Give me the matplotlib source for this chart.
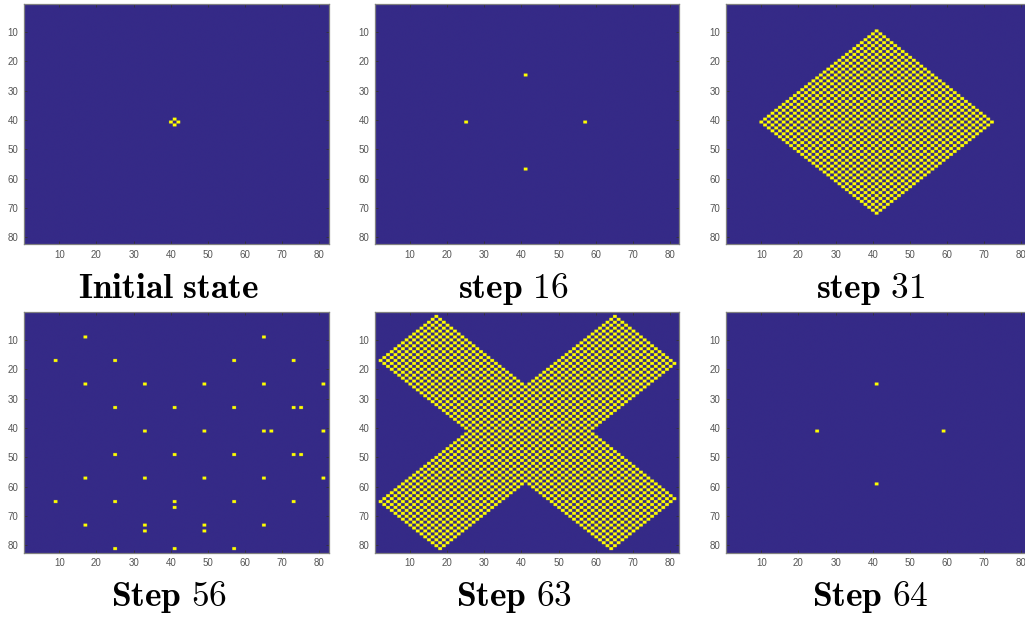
import numpy as np
import matplotlib
matplotlib.use("Agg")
import matplotlib.pyplot as plt
from matplotlib.colors import ListedColormap

plt.rcParams['font.family'] = ['Liberation Sans', 'DejaVu Sans']
plt.rcParams['mathtext.fontset'] = 'cm'

GRID = 82
BLUE = '#352a87'
YELLOW = '#ffff00'

titles = [r'$\mathbf{Initial\ state}$', r'$\mathbf{step}\ 16$', r'$\mathbf{step}\ 31$',
          r'$\mathbf{Step}\ 56$', r'$\mathbf{Step}\ 63$', r'$\mathbf{Step}\ 64$']
tick_values = [10, 20, 30, 40, 50, 60, 70, 80]

# single cells, (row, column)
initial_cells = [(40, 41), (41, 40), (41, 42), (42, 41)]
step16_cells = [(25, 41), (41, 25), (41, 57), (57, 41)]
step64_cells = [(25, 41), (41, 25), (41, 59), (59, 41)]

# step 56, columns lit on each row
step56_rows = [9, 17, 25, 33, 41, 49, 57, 65, 67, 73, 75, 81]
step56_cols = [
    [17, 65],
    [9, 25, 57, 73],
    [17, 33, 49, 65, 81],
    [25, 41, 57, 73, 75],
    [33, 49, 65, 67, 81],
    [25, 41, 57, 73, 75],
    [17, 33, 49, 65, 81],
    [9, 25, 41, 57, 73],
    [41],
    [17, 33, 49, 65],
    [33, 49],
    [25, 41, 57],
]

# step 31, checkerboard diamond: row, first column, last column
diamond_rows = [10, 11, 12, 13, 14, 15, 16, 17, 18, 19, 20, 21, 22, 23, 24, 25,
                26, 27, 28, 29, 30, 31, 32, 33, 34, 35, 36, 37, 38, 39, 40, 41,
                42, 43, 44, 45, 46, 47, 48, 49, 50, 51, 52, 53, 54, 55, 56, 57,
                58, 59, 60, 61, 62, 63, 64, 65, 66, 67, 68, 69, 70, 71, 72]
diamond_first = [41, 40, 39, 38, 37, 36, 35, 34, 33, 32, 31, 30, 29, 28, 27, 26,
                 25, 24, 23, 22, 21, 20, 19, 18, 17, 16, 15, 14, 13, 12, 11, 10,
                 11, 12, 13, 14, 15, 16, 17, 18, 19, 20, 21, 22, 23, 24, 25, 26,
                 27, 28, 29, 30, 31, 32, 33, 34, 35, 36, 37, 38, 39, 40, 41]
diamond_last = [41, 42, 43, 44, 45, 46, 47, 48, 49, 50, 51, 52, 53, 54, 55, 56,
                57, 58, 59, 60, 61, 62, 63, 64, 65, 66, 67, 68, 69, 70, 71, 72,
                71, 70, 69, 68, 67, 66, 65, 64, 63, 62, 61, 60, 59, 58, 57, 56,
                55, 54, 53, 52, 51, 50, 49, 48, 47, 46, 45, 44, 43, 42, 41]

# step 63, checkerboard X: rows 2-81, left arm span then right arm span
cross_rows = [2, 3, 4, 5, 6, 7, 8, 9, 10, 11, 12, 13, 14, 15, 16, 17, 18, 19, 20, 21,
              22, 23, 24, 25, 26, 27, 28, 29, 30, 31, 32, 33, 34, 35, 36, 37, 38, 39,
              40, 41, 42, 43, 44, 45, 46, 47, 48, 49, 50, 51, 52, 53, 54, 55, 56, 57,
              58, 59, 60, 61, 62, 63, 64, 65, 66, 67, 68, 69, 70, 71, 72, 73, 74, 75,
              76, 77, 78, 79, 80, 81]
cross_a_first = [17, 16, 15, 14, 13, 12, 11, 10, 9, 8, 7, 6, 5, 4, 3, 2, 3, 4, 5, 6,
                 7, 8, 9, 10, 11, 12, 13, 14, 15, 16, 17, 18, 19, 20, 21, 22, 23, 24,
                 25, 26, 25, 24, 23, 22, 21, 20, 19, 18, 17, 16, 15, 14, 13, 12, 11, 10,
                 9, 8, 7, 6, 5, 4, 3, 2, 3, 4, 5, 6, 7, 8, 9, 10, 11, 12,
                 13, 14, 15, 16, 17, 18]
cross_a_last = [17, 18, 19, 20, 21, 22, 23, 24, 25, 26, 27, 28, 29, 30, 31, 32, 33, 34, 35, 36,
                37, 38, 39, 40, 73, 72, 71, 70, 69, 68, 67, 66, 65, 64, 63, 62, 61, 60,
                59, 58, 59, 60, 61, 62, 63, 64, 65, 66, 67, 68, 69, 70, 71, 72, 73, 74,
                75, 40, 39, 38, 37, 36, 35, 34, 33, 32, 31, 30, 29, 28, 27, 26, 25, 24,
                23, 22, 21, 20, 19, 18]
# right arm, 0 where the row is one single span
cross_b_first = [65, 64, 63, 62, 61, 60, 59, 58, 57, 56, 55, 54, 53, 52, 51, 50, 49, 48, 47, 46,
                 45, 44, 43, 42, 0, 0, 0, 0, 0, 0, 0, 0, 0, 0, 0, 0, 0, 0,
                 0, 0, 0, 0, 0, 0, 0, 0, 0, 0, 0, 0, 0, 0, 0, 0, 0, 0,
                 0, 42, 43, 44, 45, 46, 47, 48, 49, 50, 51, 52, 53, 54, 55, 56, 57, 58,
                 59, 60, 61, 62, 63, 64]
cross_b_last = [65, 66, 67, 68, 69, 70, 71, 72, 73, 74, 75, 76, 77, 78, 79, 80, 81, 80, 79, 78,
                77, 76, 75, 74, 0, 0, 0, 0, 0, 0, 0, 0, 0, 0, 0, 0, 0, 0,
                0, 0, 0, 0, 0, 0, 0, 0, 0, 0, 0, 0, 0, 0, 0, 0, 0, 0,
                0, 76, 77, 78, 79, 80, 81, 80, 79, 78, 77, 76, 75, 74, 73, 72, 71, 70,
                69, 68, 67, 66, 65, 64]


def grid_from_cells(cells):
    grid = np.zeros((GRID, GRID))
    for r, c in cells:
        grid[r - 1, c - 1] = 1
    return grid


def paint_span(grid, row, first, last):
    # only every other cell is lit, that makes the checkerboard
    for c in range(first, last + 1):
        if (row + c) % 2 == 1:
            grid[row - 1, c - 1] = 1


def grid_step56():
    cells = []
    for row, cols in zip(step56_rows, step56_cols):
        cells += [(row, c) for c in cols]
    return grid_from_cells(cells)


def grid_diamond():
    grid = np.zeros((GRID, GRID))
    for row, first, last in zip(diamond_rows, diamond_first, diamond_last):
        paint_span(grid, row, first, last)
    return grid


def grid_cross():
    grid = np.zeros((GRID, GRID))
    for i, row in enumerate(cross_rows):
        paint_span(grid, row, cross_a_first[i], cross_a_last[i])
        if cross_b_first[i] > 0:
            paint_span(grid, row, cross_b_first[i], cross_b_last[i])
    return grid


grids = [grid_from_cells(initial_cells), grid_from_cells(step16_cells), grid_diamond(),
         grid_step56(), grid_cross(), grid_from_cells(step64_cells)]

W, H = 1025, 617
fig = plt.figure(figsize=(W / 100, H / 100), dpi=100)
cmap = ListedColormap([BLUE, YELLOW])

# panel boxes in pixels: left, top, width, height
lefts = [24, 374.7, 726]
tops = [4, 312.3]
title_x = [168.5, 513.5, 870]
title_y = [298, 606]

for i in range(6):
    col = i % 3
    row = i // 3
    left, top = lefts[col], tops[row]
    pw, ph = 304.6, 240.5
    ax = fig.add_axes([left / W, 1 - (top + ph) / H, pw / W, ph / H])
    # blown up first so the resampling keeps the cells even, no moire on the checkerboard
    big = np.repeat(np.repeat(grids[i], 8, axis=0), 8, axis=1)
    ax.imshow(big, cmap=cmap, vmin=0, vmax=1, aspect='auto', interpolation='hanning',
              interpolation_stage='rgba', extent=(0.5, GRID + 0.5, GRID + 0.5, 0.5))
    ax.set_xticks(tick_values)
    ax.set_yticks(tick_values)
    ax.tick_params(direction='in', length=2.2, width=0.6, color='#333333', top=True, right=True,
                   labelsize=7, labelcolor='#555555', pad=4)
    for name, spine in ax.spines.items():
        spine.set_color('#808080')
        spine.set_linewidth(0.9)
    fig.text(title_x[col] / W, 1 - title_y[row] / H, titles[i], ha='center', va='baseline',
             fontsize=25.5, color='black')

fig.savefig('out.png', dpi=100)
